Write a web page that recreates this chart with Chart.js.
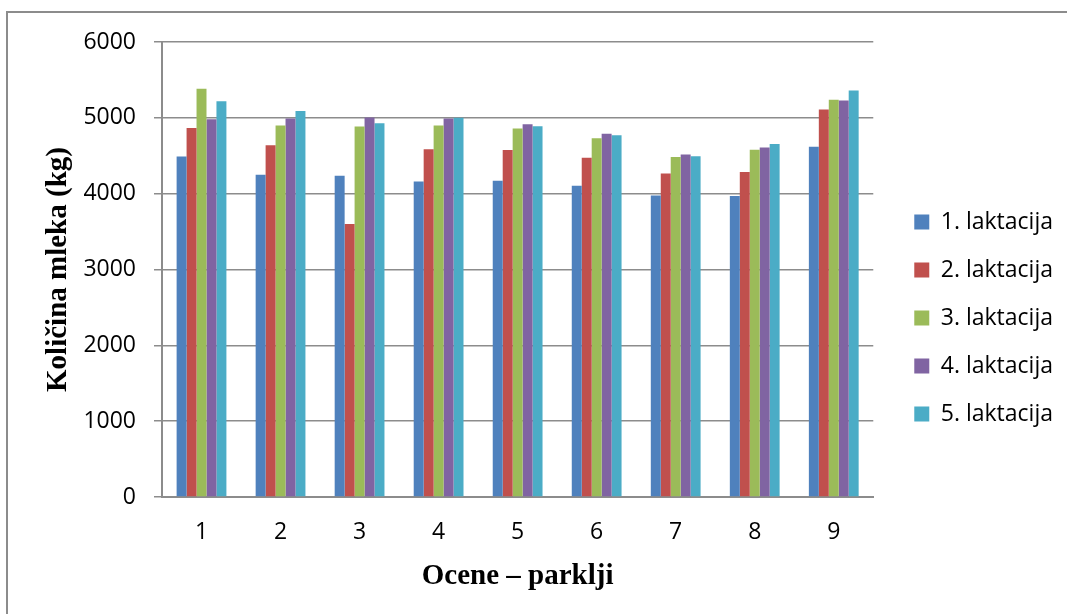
<!DOCTYPE html>
<html>
<head>
<meta charset="utf-8">
<title>Količina mleka</title>
<script src="https://cdn.jsdelivr.net/npm/chart.js@4/dist/chart.umd.min.js"></script>
<style>
    html, body { margin: 0; padding: 0; background: #fff; overflow: hidden; }
    #frame {
        position: absolute; left: 6px; top: 11px;
        width: 1080px; height: 640px;
        border: 2px solid #8c8c8c;
    }
    #chart { position: absolute; left: 0; top: 0; }
</style>
</head>
<body>
<div id="frame"></div>
<canvas id="chart" width="1067" height="614"></canvas>
<script>
// Ocene (grades) on the x axis
const categories = ['1', '2', '3', '4', '5', '6', '7', '8', '9'];

// milk yield (kg) per lactation
const laktacija1 = [4490, 4250, 4235, 4160, 4170, 4105, 3975, 3970, 4620];
const laktacija2 = [4865, 4640, 3600, 4585, 4575, 4475, 4265, 4285, 5110];
const laktacija3 = [5385, 4900, 4885, 4900, 4860, 4730, 4485, 4580, 5240];
const laktacija4 = [4980, 4990, 5005, 4990, 4915, 4790, 4515, 4610, 5230];
const laktacija5 = [5220, 5090, 4930, 5000, 4890, 4770, 4495, 4655, 5360];

const seriesNames = ['1. laktacija', '2. laktacija', '3. laktacija', '4. laktacija', '5. laktacija'];
const seriesColors = ['#4f81bd', '#c0504d', '#9bbb59', '#8064a2', '#4bacc6'];

const yTicks = [0, 1000, 2000, 3000, 4000, 5000, 6000];

const ctx = document.getElementById('chart').getContext('2d');
const allSeries = [laktacija1, laktacija2, laktacija3, laktacija4, laktacija5];

new Chart(ctx, {
    type: 'bar',
    data: {
        labels: categories,
        datasets: allSeries.map((values, i) => ({
            label: seriesNames[i],
            data: values,
            backgroundColor: seriesColors[i],
            borderWidth: 0,
            categoryPercentage: 0.63,
            barPercentage: 1.0
        }))
    },
    options: {
        responsive: false,
        animation: false,
        layout: { padding: { top: 42, bottom: 20, left: 0, right: 4 } },
        plugins: {
            tooltip: { enabled: false },
            legend: {
                position: 'right',
                labels: {
                    color: '#000',
                    font: { family: 'Open Sans', size: 23 },
                    boxWidth: 15,
                    boxHeight: 15,
                    padding: 25
                }
            }
        },
        scales: {
            x: {
                grid: { display: false, drawTicks: false },
                border: { display: true, color: '#8c8c8c', width: 2 },
                ticks: {
                    color: '#000',
                    font: { family: 'Open Sans', size: 23 },
                    padding: 22
                },
                title: {
                    display: true,
                    text: 'Ocene – parklji',
                    color: '#000',
                    font: { family: 'Liberation Serif', size: 29, weight: 'bold' },
                    padding: { top: 0, bottom: 0 }
                },
                afterFit(scale) { scale.height = 97; }
            },
            y: {
                min: 0,
                max: 6000,
                afterBuildTicks(scale) { scale.ticks = yTicks.map(v => ({ value: v })); },
                grid: { color: '#8c8c8c', lineWidth: 1.5, tickLength: 8 },
                border: { display: true, color: '#8c8c8c', width: 2 },
                ticks: {
                    color: '#000',
                    font: { family: 'Open Sans', size: 23 },
                    padding: 18,
                    callback: value => String(value)
                },
                title: {
                    display: true,
                    text: 'Količina mleka (kg)',
                    color: '#000',
                    font: { family: 'Liberation Serif', size: 29, weight: 'bold' },
                    padding: { top: 41, bottom: 0 }
                },
                afterFit(scale) { scale.width = 162; }
            },
            // empty spacer between the plot and the legend
            gap: {
                position: 'right',
                display: true,
                grid: { display: false, drawTicks: false },
                border: { display: false },
                ticks: { display: false },
                afterFit(scale) { scale.width = 16; }
            }
        }
    }
});
</script>
</body>
</html>
